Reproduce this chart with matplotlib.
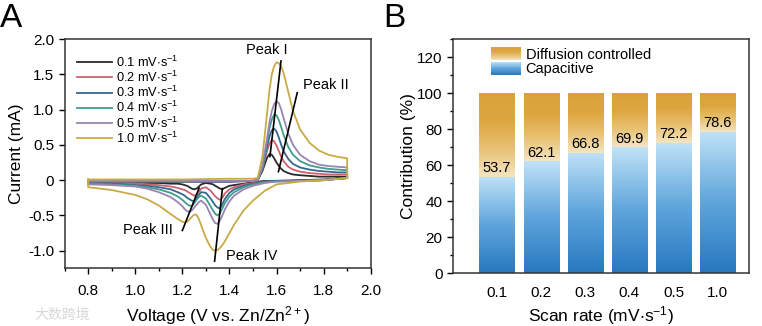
import numpy as np
import matplotlib.pyplot as plt
from matplotlib.patches import Rectangle
from matplotlib.legend_handler import HandlerBase
from matplotlib.colors import LinearSegmentedColormap

plt.rcParams['font.family'] = ['Liberation Sans', 'DejaVu Sans']
plt.rcParams['mathtext.default'] = 'regular'

# ---------------- Panel A: CV curves ----------------
rates = ['0.1', '0.2', '0.3', '0.4', '0.5', '1.0']
colors = ['#2a2a2a', '#d0606e', '#36678f', '#3f9d8c', '#9a84b4', '#c9ab45']

# anodic sweep (0.8 -> 1.9 V)
v_up = [0.80, 1.00, 1.20, 1.40, 1.50, 1.52, 1.54, 1.56, 1.57, 1.58, 1.59, 1.60,
        1.61, 1.62, 1.63, 1.65, 1.67, 1.70, 1.74, 1.78, 1.82, 1.86, 1.90]
i_up_01 = [-0.02, -0.02, -0.02, -0.02, -0.01, 0.00, 0.13, 0.32, 0.37, 0.36, 0.31, 0.25,
           0.20, 0.16, 0.13, 0.10, 0.08, 0.07, 0.06, 0.05, 0.05, 0.05, 0.05]
i_up_02 = [-0.02, -0.02, -0.02, -0.02, -0.01, 0.00, 0.15, 0.42, 0.52, 0.57, 0.55, 0.49,
           0.41, 0.33, 0.27, 0.19, 0.15, 0.12, 0.10, 0.09, 0.08, 0.08, 0.08]
i_up_03 = [-0.02, -0.02, -0.02, -0.02, -0.01, 0.00, 0.16, 0.48, 0.62, 0.71, 0.73, 0.69,
           0.60, 0.50, 0.41, 0.30, 0.23, 0.18, 0.15, 0.13, 0.12, 0.11, 0.11]
i_up_04 = [-0.015, -0.015, -0.015, -0.015, -0.01, 0.00, 0.18, 0.55, 0.74, 0.86, 0.93, 0.92,
           0.85, 0.75, 0.64, 0.47, 0.36, 0.27, 0.21, 0.18, 0.16, 0.15, 0.14]
i_up_05 = [-0.01, -0.01, -0.01, -0.01, -0.01, 0.00, 0.20, 0.60, 0.82, 0.98, 1.08, 1.12,
           1.09, 1.00, 0.88, 0.66, 0.50, 0.36, 0.27, 0.22, 0.20, 0.19, 0.18]
i_up_10 = [0.01, 0.01, 0.01, 0.02, 0.02, 0.03, 0.33, 0.95, 1.28, 1.50, 1.62, 1.67,
           1.66, 1.61, 1.52, 1.25, 0.98, 0.72, 0.53, 0.42, 0.36, 0.33, 0.31]

# cathodic sweep (1.9 -> 0.8 V)
v_down = [1.90, 1.80, 1.70, 1.60, 1.55, 1.50, 1.46, 1.42, 1.40, 1.38, 1.37, 1.36,
          1.35, 1.34, 1.33, 1.32, 1.30, 1.28, 1.27, 1.26, 1.25, 1.24, 1.23, 1.22,
          1.21, 1.20, 1.18, 1.15, 1.10, 1.05, 1.00, 0.90, 0.80]
i_down_01 = [0.03, 0.01, 0.00, -0.01, -0.01, -0.03, -0.05, -0.07, -0.08, -0.11, -0.13, -0.12,
             -0.10, -0.08, -0.06, -0.05, -0.04, -0.06, -0.09, -0.12, -0.13, -0.12, -0.10, -0.08,
             -0.07, -0.06, -0.05, -0.05, -0.04, -0.04, -0.03, -0.03, -0.03]
i_down_02 = [0.03, 0.00, -0.01, -0.01, -0.02, -0.04, -0.06, -0.10, -0.13, -0.19, -0.25, -0.28,
             -0.26, -0.23, -0.19, -0.15, -0.10, -0.12, -0.17, -0.21, -0.22, -0.20, -0.18, -0.16,
             -0.14, -0.13, -0.11, -0.09, -0.07, -0.06, -0.05, -0.04, -0.04]
i_down_03 = [0.03, 0.00, -0.01, -0.01, -0.02, -0.05, -0.08, -0.13, -0.18, -0.27, -0.34, -0.40,
             -0.39, -0.36, -0.31, -0.26, -0.18, -0.17, -0.21, -0.26, -0.30, -0.29, -0.27, -0.25,
             -0.22, -0.20, -0.17, -0.13, -0.10, -0.08, -0.07, -0.05, -0.05]
i_down_04 = [0.03, 0.00, -0.01, -0.02, -0.03, -0.06, -0.10, -0.17, -0.23, -0.33, -0.40, -0.47,
             -0.50, -0.48, -0.43, -0.37, -0.26, -0.22, -0.24, -0.28, -0.33, -0.37, -0.36, -0.34,
             -0.31, -0.28, -0.23, -0.18, -0.13, -0.10, -0.08, -0.06, -0.05]
i_down_05 = [0.03, 0.00, -0.01, -0.02, -0.04, -0.08, -0.13, -0.22, -0.30, -0.42, -0.50, -0.57,
             -0.62, -0.61, -0.56, -0.49, -0.35, -0.29, -0.31, -0.35, -0.39, -0.43, -0.45, -0.44,
             -0.41, -0.37, -0.31, -0.24, -0.17, -0.12, -0.09, -0.07, -0.06]
i_down_10 = [0.03, 0.00, -0.02, -0.06, -0.15, -0.29, -0.43, -0.63, -0.75, -0.87, -0.92, -0.96,
             -0.99, -1.00, -0.99, -0.95, -0.82, -0.64, -0.55, -0.49, -0.49, -0.52, -0.56, -0.59,
             -0.60, -0.59, -0.55, -0.48, -0.36, -0.27, -0.21, -0.14, -0.10]

i_up = [i_up_01, i_up_02, i_up_03, i_up_04, i_up_05, i_up_10]
i_down = [i_down_01, i_down_02, i_down_03, i_down_04, i_down_05, i_down_10]

# guide lines through peaks (V, I end points)
peak_names = ['Peak I', 'Peak II', 'Peak III', 'Peak IV']
peak_line_v = [[1.572, 1.619], [1.608, 1.688], [1.200, 1.271], [1.337, 1.370]]
peak_line_i = [[0.335, 1.69], [0.12, 1.24], [-0.714, -0.113], [-1.15, -0.12]]
peak_text_v = [1.56, 1.81, 1.055, 1.495]
peak_text_i = [1.85, 1.35, -0.70, -1.08]

# ---------------- Panel B: contributions ----------------
scan_rates = ['0.1', '0.2', '0.3', '0.4', '0.5', '1.0']
capacitive = [53.7, 62.1, 66.8, 69.9, 72.2, 78.6]
total = 100

fig = plt.figure(figsize=(7.62, 3.26), dpi=100)
ax1 = fig.add_axes([0.0848, 0.177, 0.4017, 0.703])
ax2 = fig.add_axes([0.5945, 0.1616, 0.3888, 0.7188])

for k in range(len(rates)):
    v = v_up + v_down + [v_up[0]]
    i = i_up[k] + i_down[k] + [i_up[k][0]]
    ax1.plot(v, i, color=colors[k], lw=1.3, label=rates[k] + r' mV$\cdot$s$^{-1}$')

for k in range(4):
    ax1.plot(peak_line_v[k], peak_line_i[k], color='black', lw=1.2)
    ax1.text(peak_text_v[k], peak_text_i[k], peak_names[k], fontsize=10.5,
             ha='center', va='center')

ax1.set_xlim(0.7, 2.0)
ax1.set_ylim(-1.25, 2.0)
ax1.set_xticks(np.arange(0.8, 2.01, 0.2))
ax1.set_xticks(np.arange(0.7, 2.01, 0.1), minor=True)
ax1.set_yticks([-1.0, -0.5, 0, 0.5, 1.0, 1.5, 2.0])
ax1.set_yticklabels(['-1.0', '-0.5', '0', '0.5', '1.0', '1.5', '2.0'])
ax1.set_xticklabels(['0.8', '1.0', '1.2', '1.4', '1.6', '1.8', '2.0'])
ax1.tick_params(which='major', direction='out', length=4, width=1, labelsize=11)
ax1.tick_params(axis='x', which='major', pad=7)
ax1.tick_params(which='minor', direction='out', length=2, width=1)
ax1.set_xlabel(r'Voltage (V vs. Zn/Zn$^{2+}$)', fontsize=12.5, labelpad=5)
ax1.set_ylabel('Current (mA)', fontsize=12.5, labelpad=3)
for s in ax1.spines.values():
    s.set_linewidth(1.1)
    s.set_color('#333333')
ax1.legend(loc='upper left', bbox_to_anchor=(0.025, 0.955), frameon=False, fontsize=9.2,
           handlelength=2.7, labelspacing=0.0, handletextpad=0.3, borderaxespad=0)

# gradient bars
cap_cmap = LinearSegmentedColormap.from_list('cap', ['#2878c0', '#5ea5dc', '#c0e2f7'])
diff_cmap = LinearSegmentedColormap.from_list('diff', ['#f4e4c2', '#e8c274', '#dea640', '#dba23a'])
grad = np.linspace(0, 1, 200).reshape(-1, 1)
w = 0.8
x = np.arange(len(scan_rates))
diffusion = [total - c for c in capacitive]
bars_cap = ax2.bar(x, capacitive, w, facecolor='none', edgecolor='none')
bars_dif = ax2.bar(x, diffusion, w, bottom=capacitive, facecolor='none', edgecolor='none')
for k in range(len(scan_rates)):
    im = ax2.imshow(grad, extent=[x[k] - w / 2, x[k] + w / 2, 0, capacitive[k]], origin='lower',
                    cmap=cap_cmap, aspect='auto', zorder=2, interpolation='bilinear')
    im.set_clip_path(bars_cap[k])
    im = ax2.imshow(grad, extent=[x[k] - w / 2, x[k] + w / 2, capacitive[k], total],
                    origin='lower', cmap=diff_cmap, aspect='auto', zorder=2,
                    interpolation='bilinear')
    im.set_clip_path(bars_dif[k])
    ax2.text(x[k], capacitive[k] + 1.0, '%.1f' % capacitive[k], ha='center', va='bottom',
             fontsize=10.5, zorder=3)


class GradientHandler(HandlerBase):
    def __init__(self, cmap):
        super().__init__()
        self.cmap = cmap

    def create_artists(self, legend, orig_handle, xdescent, ydescent, width, height,
                       fontsize, trans):
        n = 24
        out = []
        for j in range(n):
            r = Rectangle((-xdescent, -ydescent + height * j / n), width, height / n * 1.15,
                          facecolor=self.cmap(j / (n - 1)), edgecolor='none', transform=trans)
            out.append(r)
        return out


h_diff = Rectangle((0, 0), 1, 1)
h_cap = Rectangle((0, 0), 1, 1)
ax2.legend([h_diff, h_cap], ['Diffusion controlled', 'Capacitive'],
           handler_map={h_diff: GradientHandler(diff_cmap), h_cap: GradientHandler(cap_cmap)},
           loc='upper left', bbox_to_anchor=(0.115, 0.985), frameon=False, fontsize=10.5,
           handlelength=2.0, handleheight=1.05, labelspacing=0.0, handletextpad=0.35,
           borderaxespad=0, borderpad=0.3)

ax2.set_xlim(-1.0, 5.72)
ax2.set_ylim(0, 130)
ax2.set_xticks(x)
ax2.set_xticklabels(scan_rates)
ax2.set_yticks(np.arange(0, 121, 20))
ax2.set_yticks(np.arange(0, 131, 10), minor=True)
ax2.tick_params(axis='x', length=0, labelsize=11, pad=9)
ax2.tick_params(axis='y', which='major', direction='out', length=4, width=1, labelsize=11)
ax2.tick_params(axis='y', which='minor', direction='out', length=2, width=1)
ax2.set_xlabel(r'Scan rate (mV$\cdot$s$^{-1}$)', fontsize=12.5, labelpad=3)
ax2.set_ylabel('Contribution (%)', fontsize=12.5, labelpad=1)
for s in ax2.spines.values():
    s.set_linewidth(1.1)
    s.set_color('#333333')

fig.text(0.0, 0.99, 'A', fontsize=24, va='top', ha='left')
fig.text(0.503, 0.99, 'B', fontsize=24, va='top', ha='left')
fig.text(0.045, 0.035, '大数跨境', family=['Noto Sans CJK SC', 'DejaVu Sans'],
         fontsize=10, color='#d8d8d8', va='center')

fig.savefig('out.png', dpi=100)
